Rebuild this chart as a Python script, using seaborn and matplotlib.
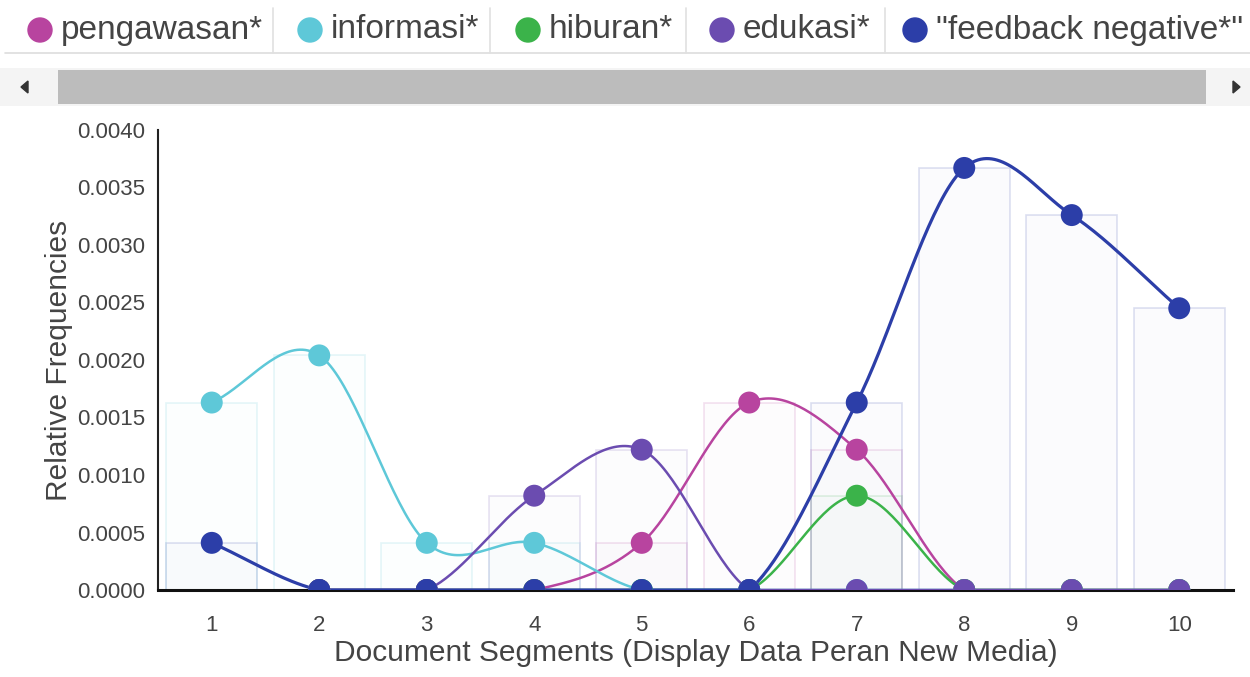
# Relative frequencies per document segment, overlaid bars + smooth curves
import numpy as np
import pandas as pd
import matplotlib
matplotlib.use("Agg")
import matplotlib.pyplot as plt
import seaborn as sns
from matplotlib.patches import Rectangle, Polygon, Circle

# data (None = no point drawn)
segments = [1, 2, 3, 4, 5, 6, 7, 8, 9, 10]
series_names = ["pengawasan*", "informasi*", "hiburan*", "edukasi*", '"feedback negative*"']
pengawasan = [None, 0, 0, 0, 0.00041, 0.00163, 0.00122, 0, 0, 0]
informasi = [0.00163, 0.00204, 0.00041, 0.00041, 0, 0, 0, 0, 0, 0]
hiburan = [None, 0, 0, 0, 0, 0, 0.00082, 0, 0, 0]
edukasi = [None, 0, 0, 0.00082, 0.00122, 0, 0, 0, 0, 0]
feedback = [0.00041, 0, 0, 0, 0, 0, 0.00163, 0.00367, 0.00326, 0.00245]
colors = ["#b8449f", "#5ec8d8", "#3bb34a", "#6b4cb0", "#2c3ea8"]
y_ticks = [0, 0.0005, 0.001, 0.0015, 0.002, 0.0025, 0.003, 0.0035, 0.004]

values = [pengawasan, informasi, hiburan, edukasi, feedback]


def smooth(x, y, n=40):
    # catmull-rom style hermite spline, clipped at zero
    pairs = [(a, b) for a, b in zip(x, y) if b is not None]
    x = np.array([p[0] for p in pairs], float)
    y = np.array([p[1] for p in pairs], float)
    m = np.zeros_like(y)
    m[1:-1] = (y[2:] - y[:-2]) / 2
    m[0] = y[1] - y[0]
    m[-1] = y[-1] - y[-2]
    xs, ys = [], []
    for i in range(len(x) - 1):
        t = np.linspace(0, 1, n)
        h00 = 2 * t**3 - 3 * t**2 + 1
        h10 = t**3 - 2 * t**2 + t
        h01 = -2 * t**3 + 3 * t**2
        h11 = t**3 - t**2
        xs.append(x[i] + t * (x[i + 1] - x[i]))
        ys.append(h00 * y[i] + h10 * m[i] + h01 * y[i + 1] + h11 * m[i + 1])
    return np.concatenate(xs), np.maximum(np.concatenate(ys), 0)


sns.set_theme(style="white")
plt.rcParams["font.family"] = ["Liberation Sans", "DejaVu Sans"]

fig = plt.figure(figsize=(12.5, 6.77), dpi=100)
ax = fig.add_axes([0.1264, 0.1285, 0.86, 0.6795])

# faint overlaid bars
for name, vals, c in zip(series_names, values, colors):
    h = [v if v is not None else 0 for v in vals]
    ax.bar(segments, h, width=0.85, facecolor=matplotlib.colors.to_rgba(c, 0.015),
           edgecolor=matplotlib.colors.to_rgba(c, 0.16), linewidth=1.2, zorder=1)

# smooth curves and points
for name, vals, c in zip(series_names, values, colors):
    sx, sy = smooth(segments, vals)
    curve = pd.DataFrame({"x": sx, "y": sy})
    lw = 2.3 if name.startswith('"') else 1.8
    sns.lineplot(data=curve, x="x", y="y", color=c, linewidth=lw, ax=ax,
                 sort=False, zorder=3)
for name, vals, c in zip(series_names, values, colors):
    pts = pd.DataFrame({"x": segments, "y": [np.nan if v is None else v for v in vals]})
    sns.scatterplot(data=pts.dropna(), x="x", y="y", color=c, s=250, edgecolor="none",
                    ax=ax, zorder=4)

ax.set_xlim(0.5, 10.5)
ax.set_ylim(0, 0.004)
ax.set_xticks(segments)
ax.set_yticks(y_ticks)
ax.set_yticklabels([f"{v:.4f}" for v in y_ticks])
ax.tick_params(axis="both", direction="out", length=7, width=1.5, color="#222",
               labelsize=16, labelcolor="#444", pad=2)
ax.tick_params(axis="x", pad=11)
for s in ["top", "right"]:
    ax.spines[s].set_visible(False)
ax.spines["left"].set_color("#222")
ax.spines["left"].set_linewidth(1.5)
ax.spines["bottom"].set_color("#111")
ax.spines["bottom"].set_linewidth(2.2)
ax.set_xlabel("Document Segments (Display Data Peran New Media)", fontsize=21.5,
              color="#444", labelpad=2)
ax.set_ylabel("Relative Frequencies", fontsize=21.5, color="#444", labelpad=3)

# legend strip and scrollbar drawn in pixel space
top = fig.add_axes([0, 0, 1, 1], zorder=-1)
top.set_xlim(0, 1250)
top.set_ylim(677, 0)
top.axis("off")
top.plot([5, 1250], [53, 53], color="#dddddd", linewidth=1.2)
for sx_ in [273, 490, 686, 885]:
    top.plot([sx_, sx_], [8, 53], color="#e0e0e0", linewidth=1.2)
leg_x = [40, 310, 528, 722, 915]
for lx, name, c in zip(leg_x, series_names, colors):
    top.add_patch(Circle((lx, 30), 12, color=c))
    top.text(lx + 21, 30, name, fontsize=24, color="#444", va="center", ha="left")

top.add_patch(Rectangle((0, 68), 1250, 38, color="#f4f4f4", linewidth=0))
top.add_patch(Rectangle((58, 70), 1148, 34, color="#bcbcbc", linewidth=0))
top.add_patch(Polygon([[21, 87], [28, 81], [28, 93]], color="#333"))
top.add_patch(Polygon([[1240, 87], [1233, 81], [1233, 93]], color="#333"))

fig.savefig("out.png", dpi=100)
